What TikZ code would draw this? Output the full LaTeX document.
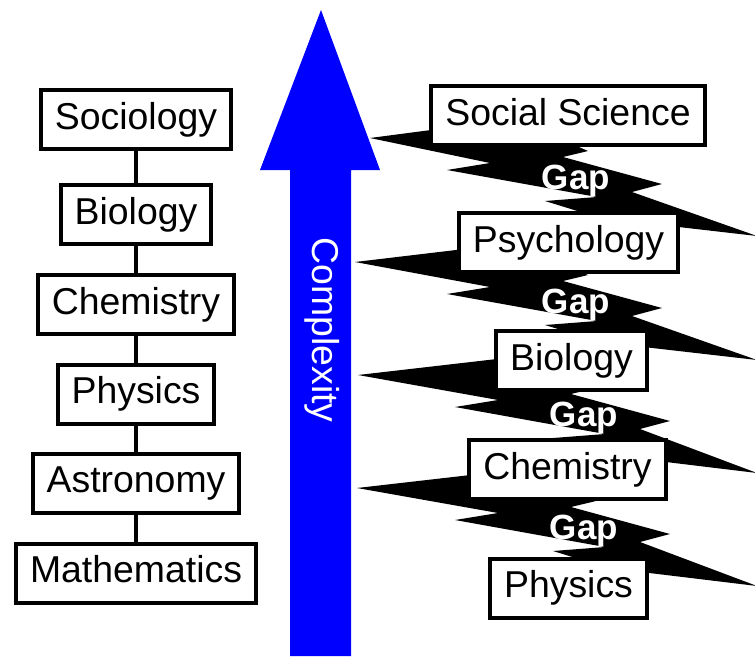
\documentclass[tikz,border=0pt]{standalone}
\usepackage{fontspec}
\setmainfont{Liberation Sans}
\newcommand\zigbolt[4]{%
  \fill[boltfill] (#1,#2) -- ({515+#3},{#2-19}) -- ({588+#3},{#2+13}) -- ({563+#3},{#2+19})
    -- ({662+#3},{#2+46}) -- ({632+#3},{#2+54}) -- (757,{#2+98}) -- ({600+#3},{#2+80})
    -- ({545+#3},{#2+63}) -- ({597+#3},{#2+59}) -- ({447+#3},{#2+32}) -- ({490+#3},{#2+25}) -- cycle;
  \node[gaptext] (#4) at ({576+#3},{#2+42}) {Gap};}
\begin{document}
\begin{tikzpicture}[x=1pt,y=-1pt,
  box/.style={draw=black,fill=white,line width=4pt,inner xsep=14pt,inner ysep=0pt,
    minimum height=59pt,font=\fontsize{37.4}{40}\selectfont,text height=27pt,text depth=8pt},
  link/.style={line width=4pt},
  boltfill/.style={fill=black},
  gaptext/.style={text=white,font=\fontsize{35}{38}\selectfont\bfseries,inner sep=0pt,
    text height=25pt,text depth=7pt}]
\useasboundingbox (0,0) rectangle (755,656);
% complexity arrow
\fill[blue] (290,656) -- (290,170) -- (260,170) -- (321,10) -- (380,170) -- (351,170) -- (351,656) -- cycle;
\node[rotate=-90,text=white,font=\fontsize{37.4}{40}\selectfont,inner sep=0pt,
  text height=27pt,text depth=8pt] (cx) at (322,330) {Complexity};
% lightning bolts
\begin{scope}
\clip (0,0) rectangle (755,656);
\zigbolt{370}{138}{0}{gap1}
\zigbolt{355}{262}{0}{gap2}
\zigbolt{358}{375}{8}{gap3}
\zigbolt{357}{488}{8}{gap4}
\end{scope}
% left column
\node[box] (soc) at (136,119.5) {Sociology};
\node[box] (lbio) at (136,214.5) {Biology};
\node[box] (lchem) at (136,304.5) {Chemistry};
\node[box] (lphys) at (136,394) {Physics};
\node[box] (astro) at (136,483) {Astronomy};
\node[box] (math) at (136,573) {Mathematics};
\draw[link] (soc.south) -- (lbio.north);
\draw[link] (lbio.south) -- (lchem.north);
\draw[link] (lchem.south) -- (lphys.north);
\draw[link] (lphys.south) -- (astro.north);
\draw[link] (astro.south) -- (math.north);
% right column
\node[box] (ss) at (568,115.5) {Social Science};
\node[box] (psy) at (568.5,242.5) {Psychology};
\node[box] (rbio) at (571.5,360.5) {Biology};
\node[box] (rchem) at (567.5,469.5) {Chemistry};
\node[box] (rphys) at (568.5,588) {Physics};
\end{tikzpicture}
\end{document}
